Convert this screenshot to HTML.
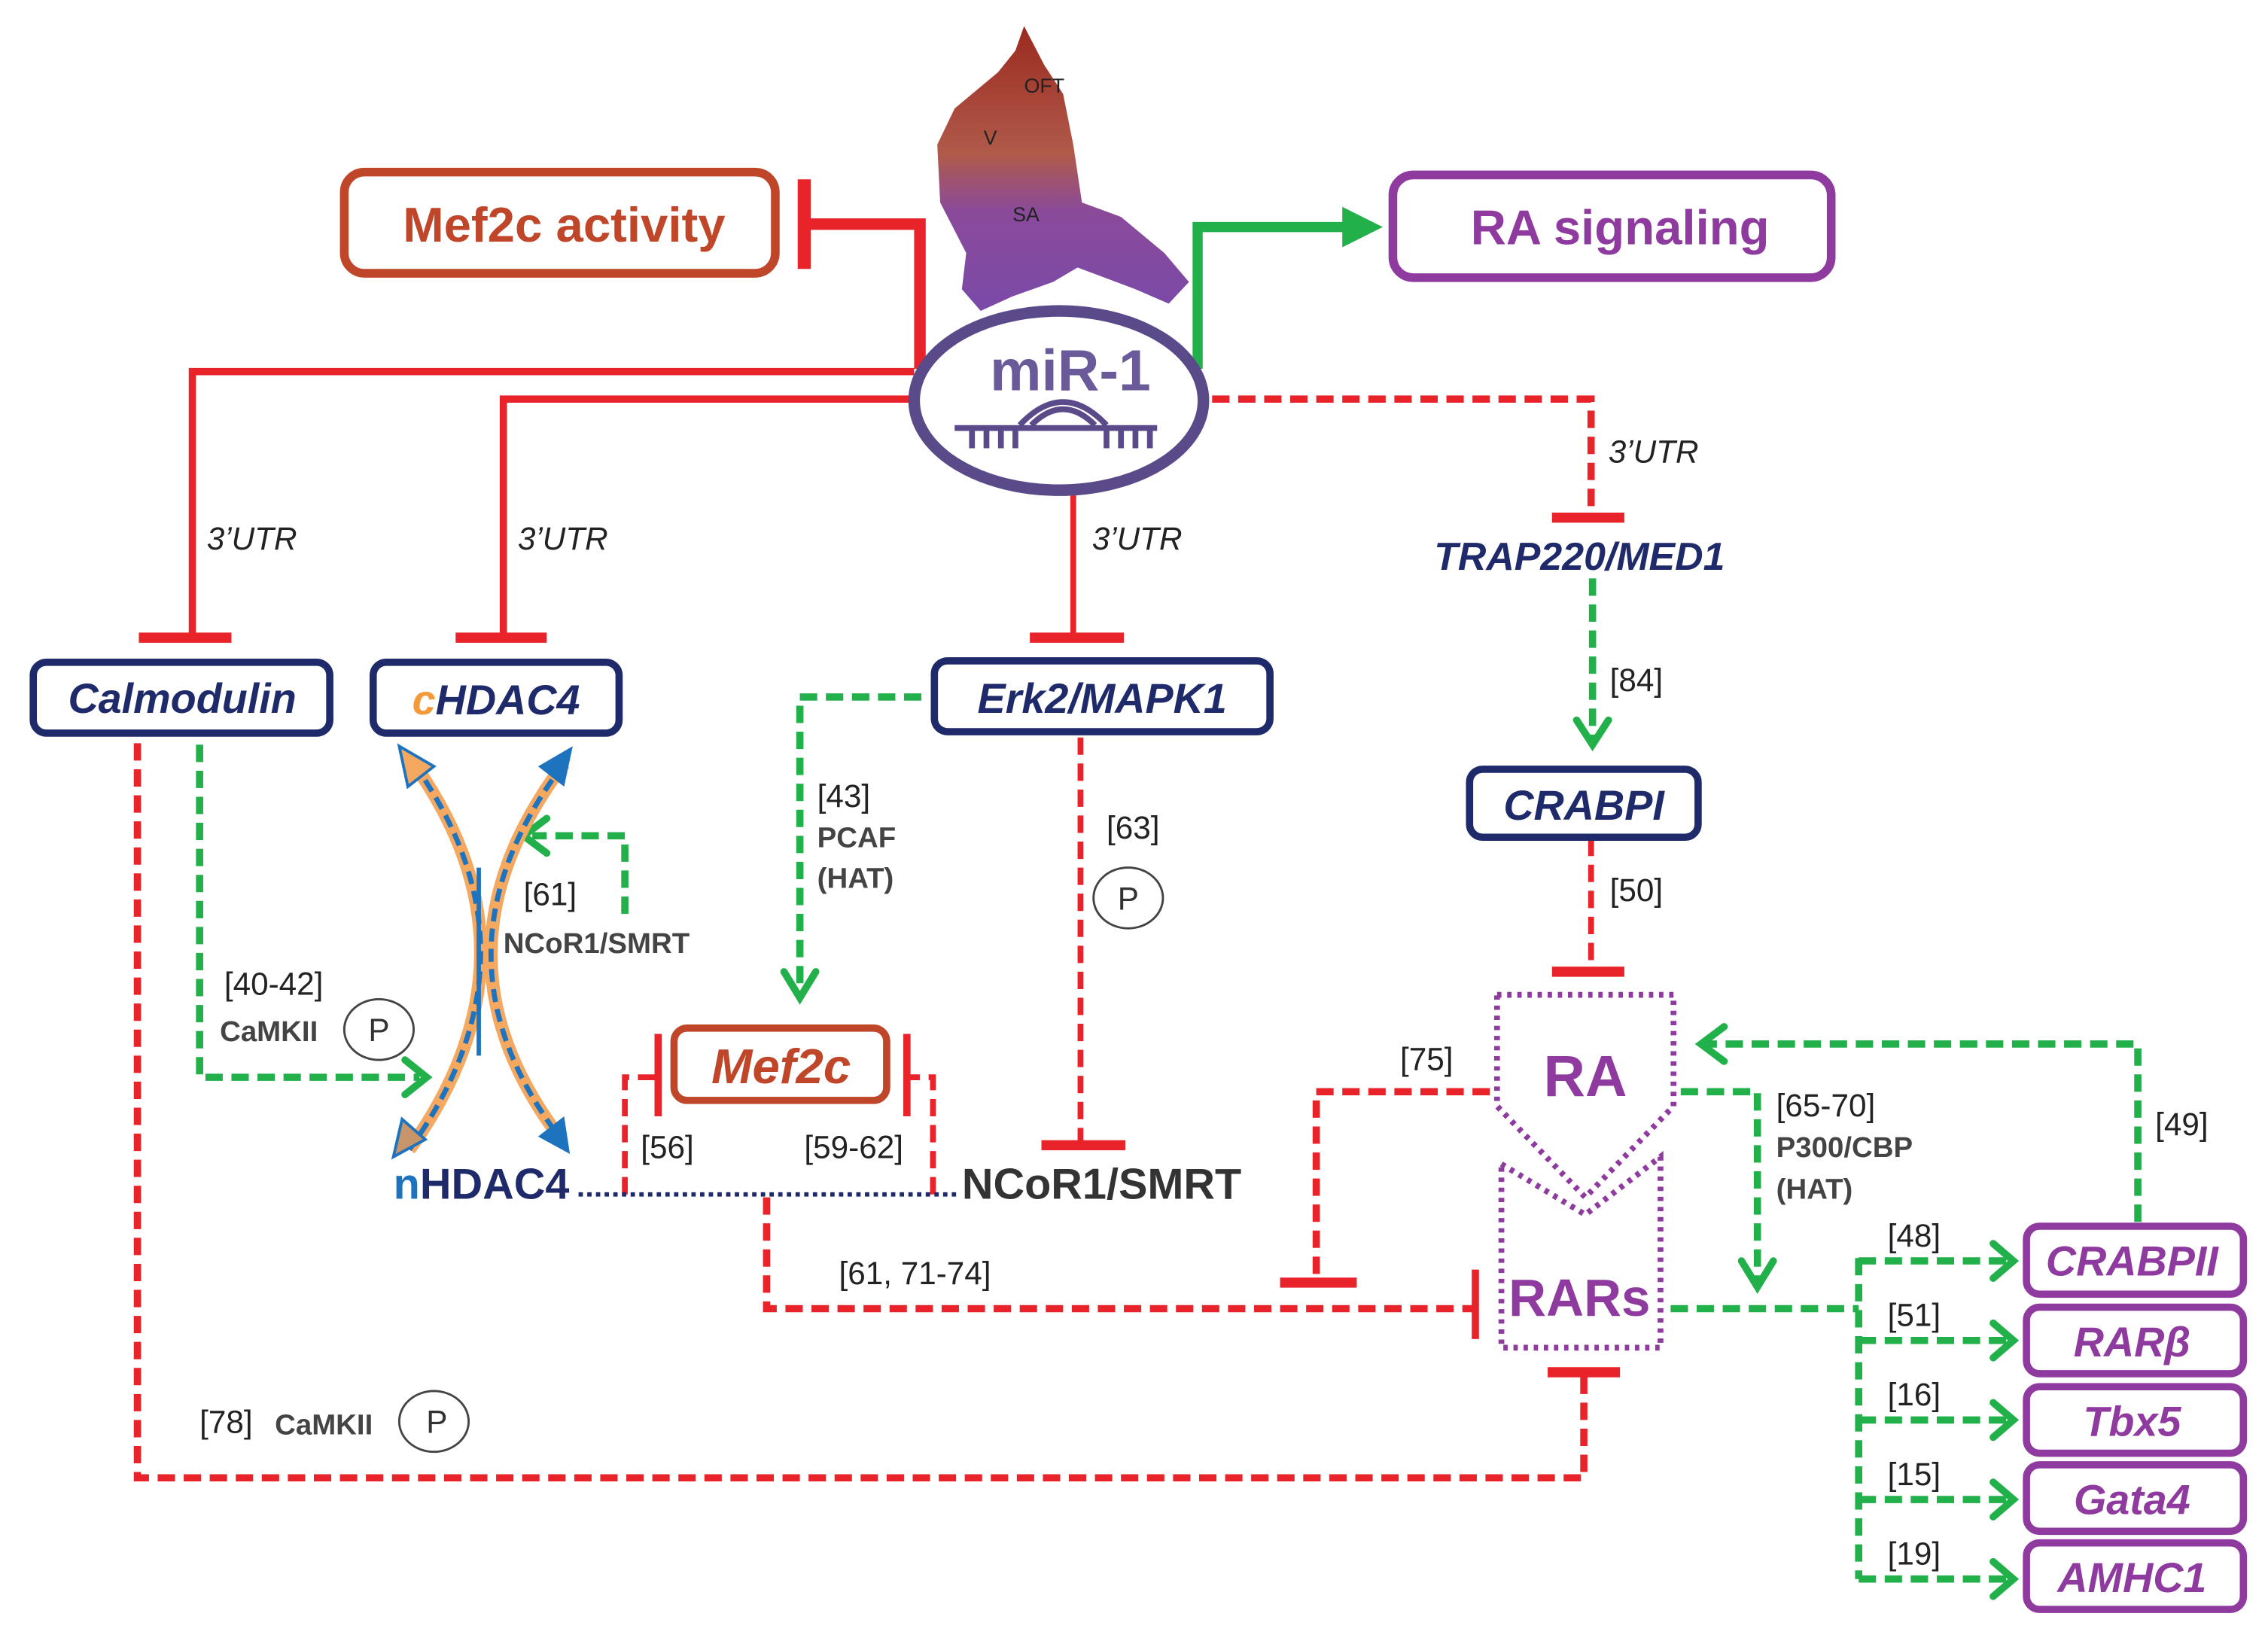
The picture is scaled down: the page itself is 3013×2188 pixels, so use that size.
<!DOCTYPE html>
<html><head><meta charset="utf-8"><style>
html,body{margin:0;padding:0;background:#fff;}
svg{display:block;}
text{font-family:"Liberation Sans",Arial,sans-serif;}
</style></head><body>
<svg width="3013" height="2188" viewBox="0 0 1568 1139" preserveAspectRatio="none" xmlns="http://www.w3.org/2000/svg">
<defs>
<linearGradient id="hg" x1="0" y1="0" x2="0" y2="1">
<stop offset="0" stop-color="#9b2a20"/><stop offset="0.45" stop-color="#b05a4a"/><stop offset="0.65" stop-color="#8a4a9a"/><stop offset="1" stop-color="#7a4aa8"/></linearGradient>
</defs>
<!-- heart -->
<path d="M708,18 L722,45 L735,65 L742,100 L748,140 L775,150 L805,175 L822,195 L808,210 L785,200 L745,185 L728,195 L700,205 L678,215 L665,200 L668,175 L650,140 L648,100 L660,75 L690,50 L702,35 Z" fill="url(#hg)"/>
<text x="708" y="64" font-size="14" fill="#222">OFT</text>
<text x="680" y="100" font-size="14" fill="#222">V</text>
<text x="700" y="153" font-size="14" fill="#222">SA</text>

<rect x="238" y="119" width="298" height="70" rx="14" fill="none" stroke="#c0462a" stroke-width="6"/>
<text x="390" y="167" font-size="34" font-weight="bold" fill="#c0462a" text-anchor="middle">Mef2c activity</text>
<rect x="963" y="121" width="303" height="71" rx="14" fill="none" stroke="#8e3a9e" stroke-width="6"/>
<text x="1120" y="169" font-size="34" font-weight="bold" fill="#8e3a9e" text-anchor="middle">RA signaling</text>

<g stroke="#e8232a" fill="none">
<path d="M636,255 L636,155 L556,155" stroke-width="8"/>
<line x1="556" y1="124" x2="556" y2="186" stroke-width="9"/>
<path d="M632,257 L133,257 L133,440" stroke-width="5"/>
<path d="M632,276 L348,276 L348,440" stroke-width="5"/>
<line x1="742" y1="338" x2="742" y2="440" stroke-width="4"/>
<line x1="96" y1="441" x2="160" y2="441" stroke-width="7"/>
<line x1="315" y1="441" x2="378" y2="441" stroke-width="7"/>
<line x1="712" y1="441" x2="777" y2="441" stroke-width="7"/>
<line x1="1073" y1="358" x2="1123" y2="358" stroke-width="7"/>
<line x1="1073" y1="672" x2="1123" y2="672" stroke-width="7"/>
<line x1="720" y1="792" x2="778" y2="792" stroke-width="7"/>
<line x1="885" y1="887" x2="938" y2="887" stroke-width="7"/>
<line x1="1070" y1="949" x2="1120" y2="949" stroke-width="7"/>
<line x1="1020" y1="878" x2="1020" y2="926" stroke-width="5"/>
</g>
<g stroke="#e8232a" fill="none" stroke-dasharray="12,6">
<path d="M838,276 L1100,276 L1100,356" stroke-width="5"/>
<path d="M1100,580 L1100,670" stroke-width="4"/>
<path d="M747,510 L747,790" stroke-width="4"/>
<path d="M1030,755 L910,755 L910,885" stroke-width="5"/>
<path d="M530,828 L530,905 L1018,905" stroke-width="5"/>
<path d="M1095,952 L1095,1022 L95,1022 L95,512" stroke-width="5"/>
<path d="M432,826 L432,745 L455,745" stroke-width="4"/>
<path d="M645,826 L645,745 L627,745" stroke-width="4"/>
</g>
<g stroke="#e8232a" stroke-width="5">
<line x1="455" y1="715" x2="455" y2="772"/>
<line x1="627" y1="715" x2="627" y2="772"/>
</g>

<path d="M828,255 L828,157 L930,157" stroke="#22b04a" stroke-width="7" fill="none"/>
<polygon points="928,143 956,157 928,171" fill="#22b04a"/>

<ellipse cx="732" cy="277" rx="100" ry="62" fill="#fff" stroke="#5b4a8a" stroke-width="8"/>
<text x="740" y="270" font-size="40" font-weight="bold" fill="#6a5a9a" text-anchor="middle">miR-1</text>
<g stroke="#5b4a8a" fill="none" stroke-width="4">
<line x1="660" y1="296" x2="800" y2="296"/>
<path d="M705,294 Q735,262 765,294"/><path d="M713,294 Q735,272 757,294"/>
<path d="M672,296 v14 M682,296 v14 M692,296 v14 M702,296 v14 M765,296 v14 M775,296 v14 M785,296 v14 M795,296 v14"/>
</g>

<g font-size="22" font-style="italic" fill="#222">
<text x="143" y="380">3’UTR</text><text x="358" y="380">3’UTR</text>
<text x="755" y="380">3’UTR</text><text x="1112" y="320">3’UTR</text>
</g>
<text x="1092" y="394" font-size="27" font-weight="bold" font-style="italic" fill="#1e2a6a" text-anchor="middle">TRAP220/MED1</text>

<g fill="none" stroke="#1e2a6a" stroke-width="5">
<rect x="23" y="458" width="205" height="49" rx="9"/>
<rect x="258" y="458" width="170" height="49" rx="9"/>
<rect x="646" y="457" width="232" height="49" rx="9"/>
<rect x="1016" y="532" width="158" height="47" rx="9"/>
</g>
<g font-size="29" font-weight="bold" font-style="italic" fill="#1e2a6a" text-anchor="middle">
<text x="126" y="493">Calmodulin</text>
<text x="343" y="494"><tspan fill="#f39a3a">c</tspan>HDAC4</text>
<text x="762" y="493">Erk2/MAPK1</text>
<text x="1095" y="567">CRABPI</text>
</g>

<g stroke="#22b04a" fill="none" stroke-dasharray="12,6" stroke-width="5">
<path d="M1101,400 L1101,512"/>
<path d="M138,515 L138,745 L290,745"/>
<path d="M637,482 L553,482 L553,688"/>
<path d="M432,632 L432,578 L368,578"/>
<path d="M1162,755 L1215,755 L1215,888"/>
<path d="M1478,845 L1478,722 L1180,722"/>
<path d="M1155,905 L1285,905 M1285,870 L1285,1092 M1285,872 L1388,872 M1285,927 L1388,927 M1285,982 L1388,982 M1285,1037 L1388,1037 M1285,1092 L1388,1092"/>
</g>
<g stroke="#22b04a" fill="none" stroke-width="5" stroke-linecap="round">
<path d="M1090,498 L1101,515 L1112,498"/>
<path d="M280,733 L295,745 L280,757"/>
<path d="M542,672 L553,690 L564,672"/>
<path d="M378,566 L362,578 L378,590"/>
<path d="M1204,872 L1215,890 L1226,872"/>
<path d="M1192,710 L1176,722 L1192,734"/>
<path d="M1378,860 L1392,872 L1378,884 M1378,915 L1392,927 L1378,939 M1378,970 L1392,982 L1378,994 M1378,1025 L1392,1037 L1378,1049 M1378,1080 L1392,1092 L1378,1104"/>
</g>

<!-- HDAC4 curves -->
<g fill="none" stroke-width="9">
<path d="M286,528 Q380,660 283,795" stroke="#f5a860"/>
<path d="M390,528 Q290,660 388,788" stroke="#f5a860"/>
</g>
<g fill="none" stroke-width="3.5" stroke="#1e73be" stroke-dasharray="9,5">
<path d="M286,528 Q380,660 283,795"/>
<path d="M390,528 Q290,660 388,788"/>
</g>
<polygon points="276,516 300,530 282,544" fill="#f5a860" stroke="#1e73be" stroke-width="2"/>
<polygon points="396,516 372,530 390,544" fill="#1e73be"/>
<polygon points="394,798 372,786 390,772" fill="#1e73be"/>
<polygon points="272,800 294,788 278,774" fill="#c8946a" stroke="#1e73be" stroke-width="2"/>
<line x1="331" y1="600" x2="331" y2="730" stroke="#1e73be" stroke-width="3"/>

<g font-size="22" fill="#222">
<text x="1113" y="478">[84]</text>
<text x="1113" y="623">[50]</text>
<text x="565" y="558">[43]</text>
<text x="765" y="580">[63]</text>
<text x="362" y="626">[61]</text>
<text x="155" y="688">[40-42]</text>
<text x="968" y="740">[75]</text>
<text x="1228" y="772">[65-70]</text>
<text x="1490" y="785">[49]</text>
<text x="443" y="801">[56]</text>
<text x="556" y="801">[59-62]</text>
<text x="580" y="888">[61, 71-74]</text>
<text x="138" y="991">[78]</text>
<text x="1305" y="862">[48]</text>
<text x="1305" y="917">[51]</text>
<text x="1305" y="972">[16]</text>
<text x="1305" y="1027">[15]</text>
<text x="1305" y="1082">[19]</text>
</g>
<g font-size="20" font-weight="bold" fill="#444">
<text x="565" y="586">PCAF</text><text x="565" y="614">(HAT)</text>
<text x="348" y="659">NCoR1/SMRT</text>
<text x="152" y="720">CaMKII</text>
<text x="190" y="992">CaMKII</text>
<text x="1228" y="800">P300/CBP</text><text x="1228" y="829">(HAT)</text>
</g>
<g fill="none" stroke="#444" stroke-width="1.5">
<ellipse cx="262" cy="712" rx="24" ry="21"/>
<ellipse cx="780" cy="621" rx="24" ry="21"/>
<ellipse cx="300" cy="983" rx="24" ry="21"/>
</g>
<g font-size="22" fill="#333" text-anchor="middle">
<text x="262" y="720">P</text><text x="780" y="629">P</text><text x="302" y="991">P</text>
</g>

<rect x="466" y="711" width="147" height="50" rx="9" fill="none" stroke="#c0462a" stroke-width="5"/>
<text x="540" y="749" font-size="34" font-weight="bold" font-style="italic" fill="#c0462a" text-anchor="middle">Mef2c</text>

<text x="272" y="829" font-size="30" font-weight="bold" fill="#1e2a6a"><tspan fill="#1e73be">n</tspan>HDAC4</text>
<line x1="400" y1="826" x2="664" y2="826" stroke="#1e2a6a" stroke-width="3" stroke-dasharray="3,3"/>
<text x="665" y="829" font-size="30" font-weight="bold" fill="#333">NCoR1/SMRT</text>

<g fill="none" stroke="#8e3a9e" stroke-width="4" stroke-dasharray="3,4">
<path d="M1035,688 L1157,688 L1157,765 L1096,828 L1035,765 Z"/>
<path d="M1038,805 L1096,840 L1148,800 L1148,932 L1038,932 Z"/>
</g>
<text x="1096" y="758" font-size="40" font-weight="bold" fill="#8e3a9e" text-anchor="middle">RA</text>
<text x="1092" y="910" font-size="36" font-weight="bold" fill="#8e3a9e" text-anchor="middle">RARs</text>

<g fill="none" stroke="#8e3a9e" stroke-width="5">
<rect x="1401" y="848" width="150" height="47" rx="9"/>
<rect x="1401" y="904" width="150" height="46" rx="9"/>
<rect x="1401" y="959" width="150" height="46" rx="9"/>
<rect x="1401" y="1013" width="150" height="46" rx="9"/>
<rect x="1401" y="1067" width="150" height="46" rx="9"/>
</g>
<g font-size="29" font-weight="bold" font-style="italic" fill="#8e3a9e" text-anchor="middle">
<text x="1474" y="882">CRABPII</text>
<text x="1474" y="938">RARβ</text>
<text x="1474" y="993">Tbx5</text>
<text x="1474" y="1047">Gata4</text>
<text x="1474" y="1101">AMHC1</text>
</g>
</svg>
</body></html>
